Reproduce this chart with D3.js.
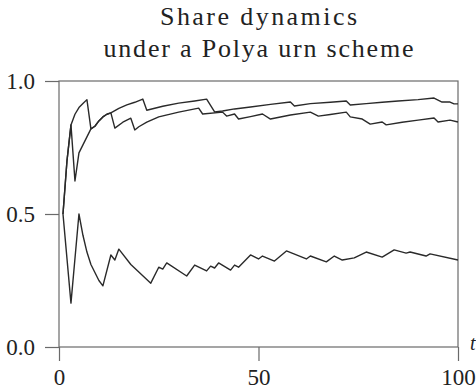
<!DOCTYPE html>
<html>
<head>
<meta charset="utf-8">
<script src="https://cdn.jsdelivr.net/npm/d3@7"></script>
<style>
  body { margin: 0; background: #fff; }
  svg { display: block; }
  text { font-family: "Liberation Serif", "DejaVu Serif", serif; fill: #222; }
</style>
</head>
<body>
<svg id="chart" width="476" height="390"></svg>
<script>
// values (vertices of each run)
const titleLines = ["Share dynamics", "under a Polya urn scheme"];
const xTicks = [0, 50, 100];
const yTicks = [0, 0.5, 1];

const run1T = [1, 2, 3, 4, 5, 6, 7, 8, 9, 10, 11, 12, 13, 15, 17, 19, 21, 22, 26, 30, 34, 37, 39, 41, 44, 48, 53, 58, 59, 63, 68, 72, 73, 77, 81, 85, 90, 94, 96, 98, 99, 100];
const run1V = [0.5, 0.70, 0.835, 0.875, 0.9, 0.915, 0.93, 0.82, 0.83, 0.85, 0.865, 0.875, 0.88, 0.897, 0.91, 0.92, 0.932, 0.89, 0.905, 0.917, 0.925, 0.932, 0.884, 0.887, 0.895, 0.902, 0.912, 0.921, 0.906, 0.915, 0.92, 0.925, 0.91, 0.915, 0.92, 0.925, 0.93, 0.936, 0.921, 0.921, 0.914, 0.914];

const run2T = [1, 2, 3, 4, 5, 6, 7, 8, 9, 10, 11, 12, 13, 14, 16, 18, 19, 20, 22, 25, 30, 35, 36, 41, 42, 44, 45, 48, 51, 53, 58, 63, 65, 68, 72, 73, 76, 78, 81, 82, 86, 90, 94, 95, 98, 100];
const run2V = [0.5, 0.70, 0.835, 0.624, 0.73, 0.76, 0.79, 0.82, 0.83, 0.85, 0.865, 0.875, 0.88, 0.823, 0.845, 0.86, 0.816, 0.828, 0.845, 0.865, 0.883, 0.898, 0.876, 0.883, 0.868, 0.876, 0.857, 0.866, 0.876, 0.857, 0.872, 0.883, 0.868, 0.874, 0.883, 0.865, 0.857, 0.838, 0.846, 0.835, 0.845, 0.853, 0.861, 0.846, 0.853, 0.846];

const run3T = [1, 3, 5, 6, 7, 8, 9, 10, 11, 13, 14, 15, 18, 23, 25, 26, 27, 32, 34, 37, 38, 39, 40, 43, 44, 45, 48, 50, 51, 54, 57, 62, 63, 67, 69, 71, 74, 77, 81, 84, 87, 88, 92, 93, 100];
const run3V = [0.5, 0.165, 0.5, 0.42, 0.357, 0.31, 0.28, 0.25, 0.23, 0.346, 0.327, 0.368, 0.31, 0.24, 0.30, 0.293, 0.316, 0.267, 0.308, 0.286, 0.304, 0.297, 0.316, 0.289, 0.308, 0.3, 0.346, 0.331, 0.342, 0.323, 0.361, 0.331, 0.342, 0.32, 0.342, 0.327, 0.335, 0.357, 0.338, 0.365, 0.353, 0.357, 0.342, 0.35, 0.327];

const margin = {top: 81, right: 18, bottom: 43, left: 59};
const width = 476, height = 390;

const svg = d3.select("#chart");

const x = d3.scaleLinear().domain([0, 100]).range([margin.left, width - margin.right]);
const y = d3.scaleLinear().domain([0, 1]).range([height - margin.bottom, margin.top]);

// title, stretched to the width of the original's wider serif
const titleWidths = [197, 310];
svg.append("g").selectAll("text")
  .data(titleLines)
  .join("text")
  .attr("x", (x(0) + x(100)) / 2)
  .attr("y", (d, i) => 25 + i * 32)
  .attr("text-anchor", "middle")
  .attr("font-size", 26)
  .attr("textLength", (d, i) => titleWidths[i])
  .attr("lengthAdjust", "spacing")
  .text(d => d);

// frame
svg.append("rect")
  .attr("x", x(0)).attr("y", y(1))
  .attr("width", x(100) - x(0)).attr("height", y(0) - y(1))
  .attr("fill", "none").attr("stroke", "#6a6a6a").attr("stroke-width", 1.2);

// axes, ticks pointing outwards
const yAxis = svg.append("g")
  .attr("transform", `translate(${x(0)},0)`)
  .call(d3.axisLeft(y).tickValues(yTicks).tickSize(14).tickPadding(10).tickFormat(d3.format(".1f")));
const xAxis = svg.append("g")
  .attr("transform", `translate(0,${y(0)})`)
  .call(d3.axisBottom(x).tickValues(xTicks).tickSize(14).tickPadding(8).tickFormat(d3.format("d")));

[xAxis, yAxis].forEach(g => {
  g.select(".domain").remove();
  g.selectAll("line").attr("stroke", "#6a6a6a").attr("stroke-width", 1.2);
  g.selectAll("text").attr("font-size", 23).attr("font-family", "Liberation Serif, serif").attr("fill", "#222");
});

// axis label, cut off at the right edge
svg.append("text")
  .attr("x", 470).attr("y", 350)
  .attr("font-size", 20).attr("font-style", "italic")
  .text("t");

// runs
const line = d3.line().x(d => x(d[0])).y(d => y(d[1]));
const runs = [
  d3.zip(run1T, run1V),
  d3.zip(run2T, run2V),
  d3.zip(run3T, run3V)
];

svg.append("g").selectAll("path")
  .data(runs)
  .join("path")
  .attr("fill", "none")
  .attr("stroke", "#2a2a2a")
  .attr("stroke-width", 1.4)
  .attr("stroke-linejoin", "round")
  .attr("d", line);
</script>
</body>
</html>
